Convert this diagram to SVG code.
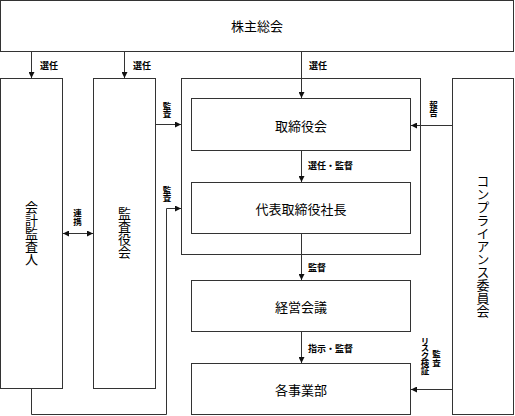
<svg xmlns="http://www.w3.org/2000/svg" width="515" height="416" viewBox="0 0 515 416">
<style>
.box{fill:#fff;stroke:#333;stroke-width:1}
.grp{fill:none;stroke:#333;stroke-width:1}
.t{font-family:"Noto Sans CJK JP","Noto Sans CJK SC",sans-serif;font-size:13px;fill:#000;text-anchor:middle;dominant-baseline:central}
.v{writing-mode:vertical-rl}
.s{font-family:"Noto Sans CJK JP","Noto Sans CJK SC",sans-serif;font-size:9px;font-weight:bold;fill:#000;dominant-baseline:central}
.sv{font-family:"Noto Sans CJK JP","Noto Sans CJK SC",sans-serif;font-size:8.5px;font-weight:bold;fill:#000;writing-mode:vertical-rl;text-anchor:middle;dominant-baseline:central}
.c{fill:none;stroke:#333;stroke-width:1}
</style>
<defs>
<marker id="ah" viewBox="0 0 10 10" refX="10" refY="5" markerWidth="6" markerHeight="6" orient="auto-start-reverse" markerUnits="userSpaceOnUse">
<path d="M0,0 L10,5 L0,10 z" fill="#111"/>
</marker>
</defs>
<g id="board-group"><rect class="grp" x="181.5" y="78.5" width="239" height="176"/></g>
<g id="shareholders"><rect class="box" x="0.5" y="0.5" width="513" height="51"/><text class="t" x="257" y="25">株主総会</text></g>
<g id="auditor"><rect class="box" x="0.5" y="78.5" width="62" height="310"/><text class="t v" x="31.5" y="233.5">会計監査人</text></g>
<g id="audit-board"><rect class="box" x="93.5" y="78.5" width="62" height="310"/><text class="t v" x="124.5" y="233">監査役会</text></g>
<g id="board"><rect class="box" x="191.5" y="98.5" width="219" height="52"/><text class="t" x="301" y="125">取締役会</text></g>
<g id="ceo"><rect class="box" x="191.5" y="182.5" width="219" height="51"/><text class="t" x="301" y="208">代表取締役社長</text></g>
<g id="mgmt"><rect class="box" x="191.5" y="280.5" width="219" height="51"/><text class="t" x="301" y="306">経営会議</text></g>
<g id="divisions"><rect class="box" x="191.5" y="363.5" width="219" height="51"/><text class="t" x="301" y="389">各事業部</text></g>
<g id="compliance"><rect class="box" x="452.5" y="78.5" width="61" height="336"/><text class="t v" x="483" y="246.5">コンプライアンス委員会</text></g>
<g id="connectors">
<path class="c" d="M31.5,52 V78" marker-end="url(#ah)"/>
<text class="s" x="40" y="65">選任</text>
<path class="c" d="M124.5,52 V78" marker-end="url(#ah)"/>
<text class="s" x="133" y="65">選任</text>
<path class="c" d="M301.5,52 V98" marker-end="url(#ah)"/>
<text class="s" x="309" y="65">選任</text>
<path class="c" d="M156,124.5 H181" marker-end="url(#ah)"/>
<text class="sv" x="167" y="110">監査</text>
<path class="c" d="M31.5,389 V414.5 H166.5 V208.5 H181" marker-end="url(#ah)"/>
<text class="sv" x="167" y="194">監査</text>
<path class="c" d="M63,233.5 H93" marker-start="url(#ah)" marker-end="url(#ah)"/>
<text class="sv" x="77.5" y="217.5">連携</text>
<path class="c" d="M452,125.5 H411" marker-end="url(#ah)"/>
<text class="sv" x="433.5" y="109">報告</text>
<path class="c" d="M301.5,151 V182" marker-end="url(#ah)"/>
<text class="s" x="308" y="165">選任・監督</text>
<path class="c" d="M301.5,234 V280" marker-end="url(#ah)"/>
<text class="s" x="308" y="267">監督</text>
<path class="c" d="M301.5,332 V363" marker-end="url(#ah)"/>
<text class="s" x="308" y="348">指示・監督</text>
<path class="c" d="M452,389.5 H411" marker-end="url(#ah)"/>
<text class="sv" x="425" y="355" letter-spacing="-1">リスク検証</text>
<text class="sv" x="436.5" y="358.5">監査</text>
</g>
</svg>
